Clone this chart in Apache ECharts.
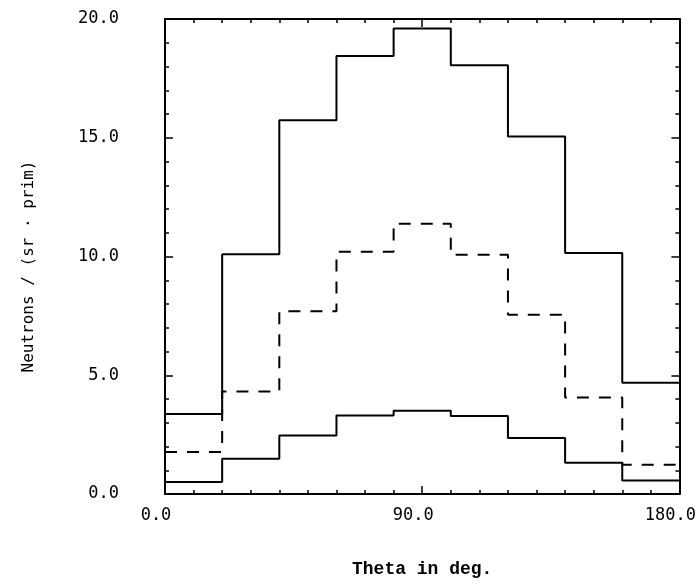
<!DOCTYPE html>
<html>
<head>
<meta charset="utf-8">
<script src="https://cdn.jsdelivr.net/npm/echarts@6/dist/echarts.min.js"></script>
<style>
  html, body { margin: 0; padding: 0; background: #fff; }
  #chart { width: 699px; height: 587px; }
</style>
</head>
<body>
<div id="chart"></div>
<script>
// Angular bins (degrees) and neutron yields per bin
const binEdges = [0, 20, 40, 60, 80, 100, 120, 140, 160, 180];
const upperSolid = [3.37, 10.1, 15.74, 18.44, 19.6, 18.05, 15.05, 10.15, 4.68];
const middleDashed = [1.77, 4.32, 7.69, 10.2, 11.38, 10.07, 7.55, 4.06, 1.23];
const lowerSolid = [0.51, 1.48, 2.46, 3.31, 3.51, 3.28, 2.36, 1.32, 0.57];
const xTickValues = [0, 90, 180];
const yTickValues = [0, 5, 10, 15, 20];

// Turn bin values into step-line points: one point per left edge, plus the final right edge
function histogramPoints(values) {
  const pts = values.map((v, i) => [binEdges[i], v]);
  pts.push([binEdges[binEdges.length - 1], values[values.length - 1]]);
  return pts;
}

const labelFont = { fontFamily: 'DejaVu Sans Mono', fontSize: 17, color: '#000' };

function frameLine() {
  return { show: true, onZero: false, lineStyle: { color: '#000', width: 2 } };
}

function xAxisDef(position, showLabels) {
  return {
    type: 'value', position: position,
    min: xTickValues[0], max: xTickValues[xTickValues.length - 1],
    interval: xTickValues[1] - xTickValues[0],
    axisLine: frameLine(),
    axisTick: { show: true, inside: true, length: 8, lineStyle: { color: '#000', width: 1.5 } },
    minorTick: { show: true, splitNumber: 9, length: 4, lineStyle: { color: '#000', width: 1.5 } },
    splitLine: { show: false },
    axisLabel: Object.assign({
      show: showLabels, margin: 13, padding: [0, 18, 0, 0],
      formatter: v => v.toFixed(1)
    }, labelFont),
    name: showLabels ? 'Theta in deg.' : '',
    nameLocation: 'middle', nameGap: 66,
    nameTextStyle: { fontFamily: 'Liberation Mono', fontWeight: 'bold', fontSize: 18, color: '#000' }
  };
}

function yAxisDef(position, showLabels) {
  return {
    type: 'value', position: position,
    min: yTickValues[0], max: yTickValues[yTickValues.length - 1],
    interval: yTickValues[1] - yTickValues[0],
    axisLine: frameLine(),
    axisTick: { show: true, inside: true, length: 8, lineStyle: { color: '#000', width: 1.5 } },
    minorTick: { show: true, splitNumber: 5, length: 4, lineStyle: { color: '#000', width: 1.5 } },
    splitLine: { show: false },
    axisLabel: Object.assign({
      show: showLabels, margin: 46,
      formatter: v => v.toFixed(1)
    }, labelFont),
    name: showLabels ? 'Neutrons / (sr · prim)' : '',
    nameLocation: 'middle', nameGap: 128,
    nameTextStyle: { fontFamily: 'DejaVu Sans Mono', fontSize: 16, color: '#000', padding: [0, 20, 0, 0] }
  };
}

function stepSeries(values, dashed) {
  return {
    type: 'line', step: 'end', symbol: 'none',
    xAxisIndex: 0, yAxisIndex: 0,
    data: histogramPoints(values),
    lineStyle: { color: '#000', width: 2, type: dashed ? [12, 10] : 'solid' },
    clip: false
  };
}

const chart = echarts.init(document.getElementById('chart'));
chart.setOption({
  animation: false,
  backgroundColor: '#fff',
  grid: { left: 165, right: 19, top: 19, bottom: 93 },
  xAxis: [xAxisDef('bottom', true), xAxisDef('top', false)],
  yAxis: [yAxisDef('left', true), yAxisDef('right', false)],
  series: [
    stepSeries(upperSolid, false),
    stepSeries(middleDashed, true),
    stepSeries(lowerSolid, false)
  ]
});
</script>
</body>
</html>
